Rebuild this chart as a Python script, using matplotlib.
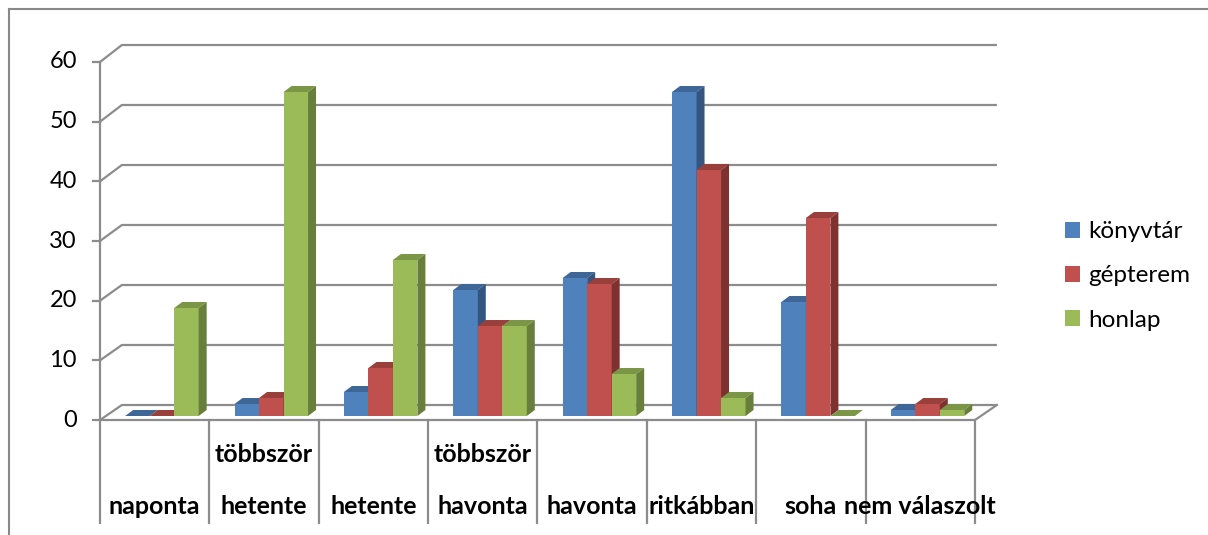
import matplotlib
matplotlib.use("Agg")
import matplotlib.pyplot as plt
from matplotlib.patches import Polygon, Patch

# ---------------- data ----------------
categories = ["naponta", "többször\nhetente", "hetente", "többször\nhavonta",
              "havonta", "ritkábban", "soha", "nem válaszolt"]
series_names = ["könyvtár", "gépterem", "honlap"]
konyvtar = [0, 2, 4, 21, 23, 54, 19, 1]
gepterem = [0, 3, 8, 15, 22, 41, 33, 2]
honlap = [18, 54, 26, 15, 7, 3, 0, 1]
y_ticks = [0, 10, 20, 30, 40, 50, 60]

series_values = [konyvtar, gepterem, honlap]
front_cols = ["#4F81BD", "#C0504D", "#9BBB59"]
top_cols = ["#3E6697", "#99403D", "#7C9647"]
side_cols = ["#34557F", "#7F3130", "#687E3B"]

plt.rcParams['font.family'] = ['Lato', 'DejaVu Sans']

W, H = 1208, 535
fig = plt.figure(figsize=(W / 100, H / 100), dpi=100)
ax = fig.add_axes([0, 0, 1, 1])
ax.axis('off')

# scale: 1 category = 109.375 px; 1 value unit = 6 px
PXC = 109.375
PXV = 6.0
x_left_px, base_py = 100, 416
ax.set_xlim(-x_left_px / PXC, (W - x_left_px) / PXC)
ax.set_ylim((base_py - H) / PXV, base_py / PXV)

ncat = len(categories)
grid_col = "#8C8C8C"
glw = 1.6

def vf(t):  # front plane
    return -0.667 + t * 59.667 / 60

def vb(t):  # back wall
    return 1.833 + t

DX_BACK = 0.2

# back wall gridlines and diagonals
for t in y_ticks:
    ax.plot([0, DX_BACK, ncat + DX_BACK], [vf(t), vb(t), vb(t)],
            color=grid_col, lw=glw, zorder=1, solid_capstyle='butt')
    ax.plot([-7 / PXC, 0], [vf(t), vf(t)], color=grid_col, lw=glw, zorder=1)
    ax.text(-23 / PXC, vf(t), str(t), ha='right', va='center',
            fontsize=17, color='#000000')

# front axis vertical
ax.plot([0, 0], [vf(0), vf(y_ticks[-1])], color=grid_col, lw=glw, zorder=1)
# floor front edge and right diagonal
ax.plot([0, ncat, ncat + DX_BACK], [vf(0), vf(0), vb(0)],
        color=grid_col, lw=glw, zorder=1)

# category separators
bottom_v = (base_py - 523) / PXV
for i in range(ncat + 1):
    ax.plot([i, i], [vf(0), bottom_v], color=grid_col, lw=glw, zorder=1)

# bars
BW = 0.224
OFF = 0.23
DX = 8 / PXC
DY = 1.0
for j, vals in enumerate(series_values):
    xs = [i + OFF + j * BW for i in range(ncat)]
    z = 3 + j
    ax.bar(xs, vals, width=BW, align='edge', color=front_cols[j],
           edgecolor='none', zorder=z)
    for x0, v in zip(xs, vals):
        top = Polygon([(x0, v), (x0 + BW, v), (x0 + BW + DX, v + DY),
                       (x0 + DX, v + DY)], closed=True,
                      facecolor=top_cols[j], edgecolor='none', zorder=z)
        side = Polygon([(x0 + BW, 0), (x0 + BW, v), (x0 + BW + DX, v + DY),
                        (x0 + BW + DX, DY)], closed=True,
                       facecolor=side_cols[j], edgecolor='none', zorder=z)
        ax.add_patch(top)
        ax.add_patch(side)

# category labels
v_line2 = (base_py - 507) / PXV
v_line1 = (base_py - 455) / PXV
for i, lab in enumerate(categories):
    parts = lab.split('\n')
    if len(parts) == 2:
        ax.text(i + 0.5, v_line1, parts[0], ha='center', va='center',
                fontsize=18, fontweight='bold')
        ax.text(i + 0.5, v_line2, parts[1], ha='center', va='center',
                fontsize=18, fontweight='bold')
    else:
        ax.text(i + 0.5, v_line2, parts[0], ha='center', va='center',
                fontsize=18, fontweight='bold')

# outer border (top and left)
bx = -91 / PXC
by = (base_py - 9) / PXV
ax.plot([bx, (W - x_left_px) / PXC], [by, by], color='#888888', lw=1.5)
ax.plot([bx, bx], [by, (base_py - H) / PXV], color='#888888', lw=1.5)

# legend
handles = [Patch(facecolor=c, edgecolor='none') for c in front_cols]
fig.legend(handles, series_names, loc='center left',
           bbox_to_anchor=(1065 / W, 1 - 276 / H), frameon=False,
           fontsize=17.5, handlelength=0.62, handleheight=0.62,
           handletextpad=0.32, labelspacing=0.95, borderpad=0,
           borderaxespad=0)

fig.savefig("out.png", dpi=100)
